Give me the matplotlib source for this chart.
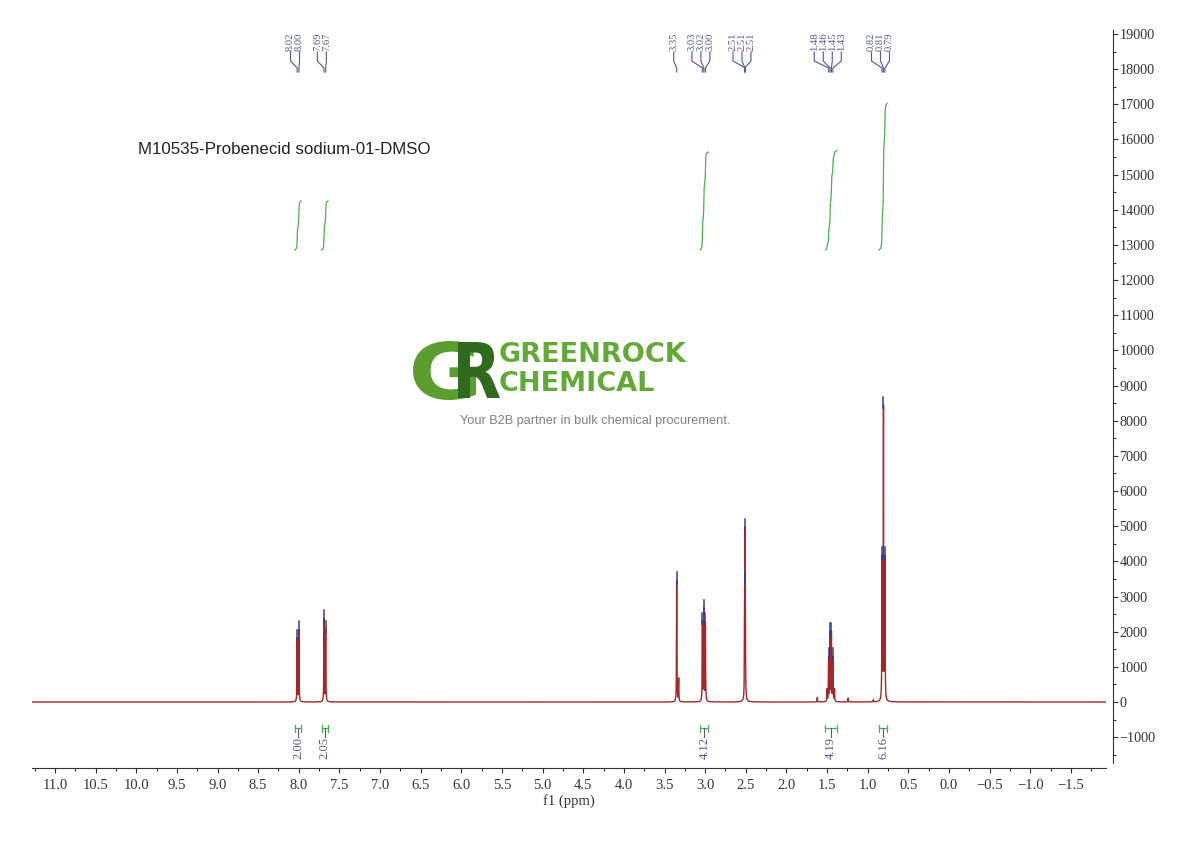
import numpy as np
import matplotlib
matplotlib.use("Agg")
import matplotlib.pyplot as plt
import matplotlib.transforms as mtransforms
from matplotlib.ticker import MultipleLocator, FuncFormatter
from matplotlib.textpath import TextPath
from matplotlib.patches import PathPatch
from matplotlib.font_manager import FontProperties

# ---------------- data ----------------
line_ppm = [8.020, 7.999, 7.690, 7.669, 3.350, 3.326, 3.034, 3.016, 2.997,
            2.506, 2.510, 2.514, 1.500, 1.481, 1.463, 1.4465, 1.428, 1.409,
            0.824, 0.806, 0.788, 1.620, 1.240, 0.930]
line_height = [1800, 2050, 2350, 2050, 3450, 650, 2250, 2600, 2250,
               2200, 3750, 2200, 350, 1250, 1950, 1950, 1250, 350,
               4000, 8300, 4000, 130, 110, 60]
line_hwhm = 0.0025

peak_groups_ppm = [[8.020, 7.999], [7.690, 7.669], [3.350], [3.034, 3.016, 2.997],
                   [2.506, 2.510, 2.514], [1.481, 1.463, 1.4465, 1.428],
                   [0.824, 0.806, 0.788]]
peak_groups_labels = [["8.02", "8.00"], ["7.69", "7.67"], ["3.35"],
                      ["3.03", "3.02", "3.00"], ["2.51", "2.51", "2.51"],
                      ["1.48", "1.46", "1.45", "1.43"], ["0.82", "0.81", "0.79"]]

integral_start = [8.05, 7.72, 3.06, 1.52, 0.86]
integral_end = [7.97, 7.64, 2.96, 1.38, 0.76]
integral_labels = ["2.00", "2.05", "4.12", "4.19", "6.16"]
integral_curve_top = [14250, 14250, 15640, 15680, 17030]
integral_curve_base = 12860

title_text = "M10535-Probenecid sodium-01-DMSO"
x_label = "f1 (ppm)"
logo_words = "GREENROCK\nCHEMICAL"
tagline = "Your B2B partner in bulk chemical procurement."

# ---------------- figure ----------------
W, H = 1190, 841
fig = plt.figure(figsize=(W / 100, H / 100), dpi=100)
ax_l, ax_r, ax_t, ax_b = 32, 1106, 30, 768
ax = fig.add_axes([ax_l / W, 1 - ax_b / H, (ax_r - ax_l) / W, (ax_b - ax_t) / H])

xmin, xmax = -1.932, 11.283
ymin, ymax = -1877, 19113
ax.set_xlim(xmax, xmin)
ax.set_ylim(ymin, ymax)
px_per_ppm = (ax_r - ax_l) / (xmax - xmin)
px_per_unit = (ax_b - ax_t) / (ymax - ymin)


def v(ypx):
    """figure pixel row -> data value"""
    return ymax - (ypx - ax_t) / px_per_unit


# spectrum
ppm = np.arange(xmin, xmax, 0.0004)
spec = np.zeros_like(ppm)
for p, h in zip(line_ppm, line_height):
    spec += h * line_hwhm ** 2 / ((ppm - p) ** 2 + line_hwhm ** 2)
ax.plot(ppm, spec, color="#a3262a", lw=1.0, zorder=3)

blue = "#3a3a9c"
label_col = "#55558f"
green = "#4caf50"
serif = "Liberation Serif"

# peak markers + labels
sp = 9.0 / px_per_ppm
for grp, labs in zip(peak_groups_ppm, peak_groups_labels):
    n = len(grp)
    center = np.mean(grp) + 3.0 / px_per_ppm
    for i, (p, s) in enumerate(zip(grp, labs)):
        lx = center + (n - 1) / 2 * sp - i * sp
        apex = np.interp(p, ppm, spec)
        ax.plot([p, p], [apex - 100, apex + 230], color=blue, lw=1.1, zorder=4)
        ax.text(lx, v(51), s, rotation=90, ha="center", va="bottom",
                fontsize=7.6, family=serif, color=label_col)
        ax.plot([lx, lx, p, p], [v(52), v(61), v(68), v(72)],
                color=label_col, lw=0.8)

# integrals
for s, e, lab, top in zip(integral_start, integral_end, integral_labels, integral_curve_top):
    m = (ppm <= s) & (ppm >= e)
    xs = ppm[m][::-1]
    cum = np.cumsum(spec[m][::-1])
    frac = (cum - cum[0]) / (cum[-1] - cum[0])
    ax.plot(xs, integral_curve_base + frac * (top - integral_curve_base),
            color=green, lw=0.9)
    c = (s + e) / 2
    ax.plot([s, e], [v(728), v(728)], color=green, lw=0.9)
    ax.plot([s, s], [v(724.5), v(731.5)], color=green, lw=0.9)
    ax.plot([e, e], [v(724.5), v(731.5)], color=green, lw=0.9)
    ax.plot([c, c], [v(728), v(737)], color=label_col, lw=0.8)
    ax.text(c, v(737), lab, rotation=90, ha="center", va="top",
            fontsize=9, family=serif, color=label_col)

# axes styling
for k in ("top", "left"):
    ax.spines[k].set_visible(False)
ax.spines["bottom"].set_color("#333333")
ax.spines["right"].set_color("#333333")
ax.spines["right"].set_position(("outward", 5))
ax.spines["right"].set_bounds(-1735, ymax)
ax.yaxis.tick_right()
ax.xaxis.set_major_locator(MultipleLocator(0.5))
ax.xaxis.set_minor_locator(MultipleLocator(0.25))
ax.yaxis.set_major_locator(MultipleLocator(1000))
ax.yaxis.set_minor_locator(MultipleLocator(500))


def fmt_x(val, pos):
    s = f"{abs(val):.1f}"
    return ("\u2212" + s) if val < -1e-9 else s


def fmt_y(val, pos):
    s = f"{abs(val):.0f}"
    return ("\u2212" + s) if val < -1e-9 else s


ax.xaxis.set_major_formatter(FuncFormatter(fmt_x))
ax.yaxis.set_major_formatter(FuncFormatter(fmt_y))
ax.tick_params(axis="x", which="major", direction="out", length=3.6, width=0.8,
               color="#333333", labelsize=10.5, pad=4, labelcolor="#333333")
ax.tick_params(axis="x", which="minor", direction="out", length=2.4, width=0.8,
               color="#333333")
ax.tick_params(axis="y", which="major", direction="out", length=3.6, width=0.8,
               color="#333333", labelsize=10.2, pad=1, labelcolor="#333333")
ax.tick_params(axis="y", which="minor", direction="out", length=2.4, width=0.8,
               color="#333333")
for t in ax.get_xticklabels() + ax.get_yticklabels():
    t.set_family(serif)
ax.set_xlabel(x_label, family=serif, fontsize=10.5, color="#333333", labelpad=2)

# title
fig.text(138 / W, 1 - 150 / H, title_text, ha="left", va="center",
         fontsize=12.2, family="Liberation Sans", color="#222222")


# logo mark (graphic glyph shapes)
def glyph(ch, family, x0, x1, ytop, ybot, color):
    tp = TextPath((0, 0), ch, size=1, prop=FontProperties(family=family, weight="bold"))
    bb = tp.get_extents()
    tr = (mtransforms.Affine2D()
          .translate(-bb.x0, -bb.y0)
          .scale((x1 - x0) / bb.width, (ybot - ytop) / bb.height)
          .translate(x0, H - ybot))
    fig.add_artist(PathPatch(tr.transform_path(tp), transform=mtransforms.IdentityTransform(),
                             facecolor=color, edgecolor="none"))


glyph("G", "DejaVu Sans", 413, 476, 341, 400, "#5a9e30")
glyph("R", "DejaVu Sans", 458, 500, 342, 398, "#2f6a1f")

fig.text(499 / W, 1 - 342 / H, logo_words, ha="left", va="top", fontsize=19.5,
         family="DejaVu Sans", weight="bold", color="#62aa36", linespacing=1.17)
fig.text(595 / W, 1 - 421 / H, tagline,
         ha="center", va="center", fontsize=9.2, family="Liberation Sans",
         color="#808080")

fig.savefig("out.png", dpi=100, facecolor="white")
